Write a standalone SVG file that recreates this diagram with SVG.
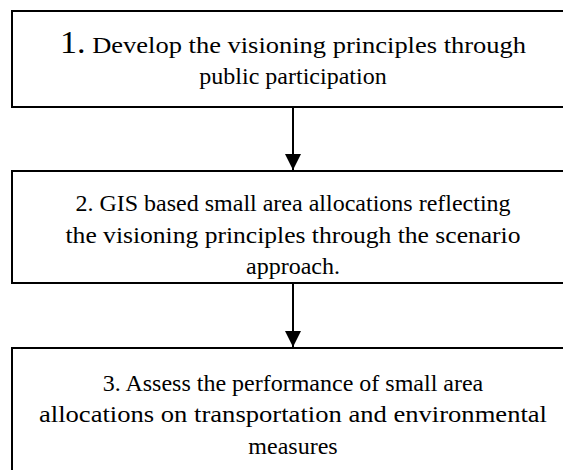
<svg xmlns="http://www.w3.org/2000/svg" width="563" height="470" viewBox="0 0 563 470">
  <style>
    .box { fill: #ffffff; stroke: #000000; stroke-width: 2; }
    .lbl { font-size: 24px; fill: #000000; text-anchor: middle; }
    .big { font-size: 31px; }
    .conn { stroke: #000000; stroke-width: 2; fill: none; }
  </style>
  <defs>
    <marker id="arrow" viewBox="0 0 16 16" refX="16" refY="8" markerWidth="16" markerHeight="16" markerUnits="userSpaceOnUse" orient="auto">
      <path d="M0,0 L16,8 L0,16 Z" fill="#000000"/>
    </marker>
  </defs>
  <rect width="563" height="470" fill="#ffffff"/>

  <g font-family="'Liberation Serif', 'DejaVu Serif', serif">
    <g id="step1">
      <rect class="box" x="12" y="11" width="562" height="96"/>
      <text class="lbl" x="293" y="53" textLength="466" lengthAdjust="spacingAndGlyphs"><tspan class="big">1.</tspan> Develop the visioning principles through</text>
      <text class="lbl" x="293" y="84">public participation</text>
    </g>

    <g id="step2">
      <rect class="box" x="12" y="171" width="562" height="112"/>
      <text class="lbl" x="293" y="211">2. GIS based small area allocations reflecting</text>
      <text class="lbl" x="293" y="243" textLength="455" lengthAdjust="spacingAndGlyphs">the visioning principles through the scenario</text>
      <text class="lbl" x="293" y="274">approach.</text>
    </g>

    <g id="step3">
      <rect class="box" x="12" y="348" width="562" height="140"/>
      <text class="lbl" x="293" y="391">3. Assess the performance of small area</text>
      <text class="lbl" x="293" y="422" textLength="508" lengthAdjust="spacingAndGlyphs">allocations on transportation and environmental</text>
      <text class="lbl" x="293" y="454">measures</text>
    </g>
  </g>

  <g id="connectors">
    <line class="conn" x1="293" y1="107" x2="293" y2="170" marker-end="url(#arrow)"/>
    <line class="conn" x1="293" y1="283" x2="293" y2="347" marker-end="url(#arrow)"/>
  </g>
</svg>
